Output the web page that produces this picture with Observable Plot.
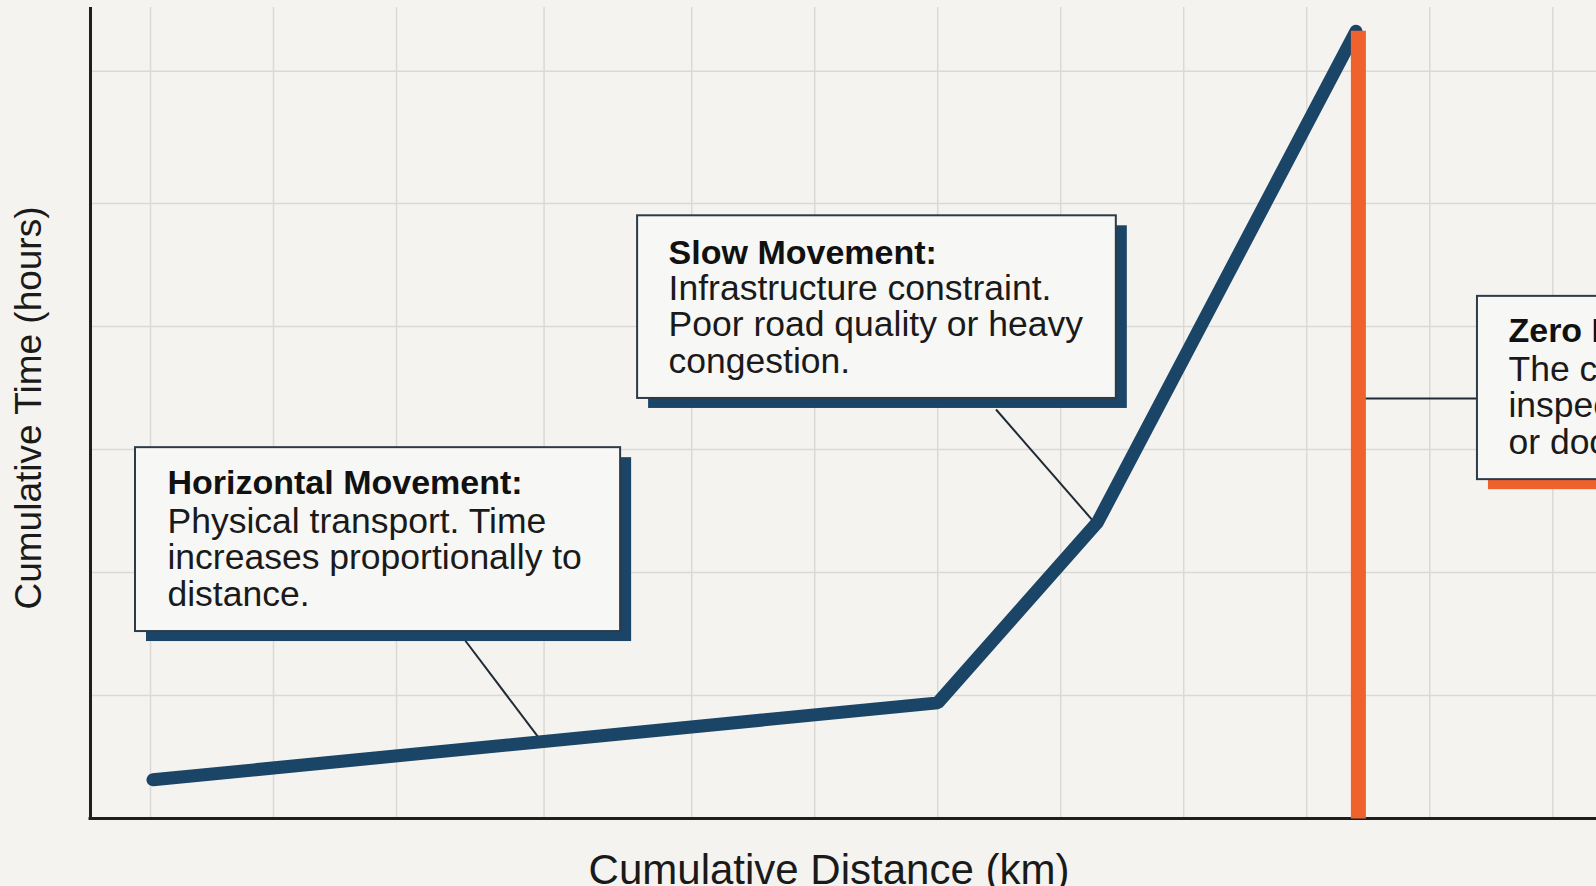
<!DOCTYPE html>
<html>
<head>
<meta charset="utf-8">
<script src="https://cdn.jsdelivr.net/npm/d3@7"></script>
<script src="https://cdn.jsdelivr.net/npm/@observablehq/plot@0.6"></script>
<style>
  html, body { margin: 0; padding: 0; background: #f4f3ef; overflow: hidden; }
</style>
</head>
<body>
<div id="chart"></div>
<script>
// ---- data ----
const xLabel = "Cumulative Distance (km)";
const yLabel = "Cumulative Time (hours)";

// grid positions (no tick labels are printed)
const gridDistance = [0, 50, 100, 160, 220, 270, 320, 370, 420, 470, 520, 570];
const gridTime = [2, 4, 6, 8, 10, 12.15];

// journey profile
const distance = [1, 320, 385, 490];
const time = [0.63, 1.88, 4.82, 12.8];

// stationary (zero-distance) segment
const stopDistance = [491, 491];
const stopTime = [0, 12.81];

// annotation boxes (data units)
const boxTitles = ["Horizontal Movement:", "Slow Movement:", "Zero Movement:"];
const boxBodies = [
  "Physical transport. Time\nincreases proportionally to\ndistance.",
  "Infrastructure constraint.\nPoor road quality or heavy\ncongestion.",
  "The cargo waits for customs\ninspection, border clearance\nor documentation."
];
const boxX1 = [-6.1, 198, 539.4];
const boxX2 = [191.1, 392.6, 720];
const boxY1 = [3.04, 6.83, 5.51];
const boxY2 = [6.03, 9.80, 8.49];
const textX = [6.9, 210.6, 552];
const titleY = [5.27, 9.01, 7.74];
const bodyY = [3.46, 7.25, 5.93];
const linkX1 = [128, 343.7, 491];
const linkY1 = [2.89, 6.65, 6.83];
const linkX2 = [159, 384, 539.4];
const linkY2 = [1.25, 4.8, 6.83];
const shadowColor = ["#1b4567", "#1b4567", "#f0622d"];

// ---- tables built from the arrays ----
const profile = distance.map((d, i) => ({distance: d, time: time[i]}));
const stop = stopDistance.map((d, i) => ({distance: d, time: stopTime[i]}));
const boxes = boxTitles.map((t, i) => ({
  title: t, body: boxBodies[i],
  x1: boxX1[i], x2: boxX2[i], y1: boxY1[i], y2: boxY2[i],
  tx: textX[i], ty: titleY[i], by: bodyY[i],
  lx1: linkX1[i], ly1: linkY1[i], lx2: linkX2[i], ly2: linkY2[i],
  shadow: shadowColor[i]
}));

const xMin = -24.39, xMax = 576.0, yMax = 13.187;
const font = "'Liberation Sans', Arial, Helvetica, sans-serif";
const navy = "#1b4567";
const orange = "#f0622d";

const chart = Plot.plot({
  width: 1596,
  height: 886,
  marginLeft: 90,
  marginRight: 29,
  marginTop: 7,
  marginBottom: 68,
  x: {domain: [xMin, xMax], axis: null},
  y: {domain: [0, yMax], axis: null},
  style: {background: "#f4f3ef", fontFamily: font, overflow: "hidden"},
  marks: [
    // grid
    Plot.ruleX(gridDistance, {stroke: "#dad9d5", strokeWidth: 1.5}),
    Plot.ruleY(gridTime, {x1: xMin, x2: 700, stroke: "#dad9d5", strokeWidth: 1.5}),
    // axis lines
    Plot.ruleX([xMin], {stroke: "#1e1e1e", strokeWidth: 3}),
    Plot.ruleY([0], {x1: xMin - 0.6, x2: 700, stroke: "#1e1e1e", strokeWidth: 3}),
    // connectors
    Plot.link(boxes, {x1: "lx1", y1: "ly1", x2: "lx2", y2: "ly2", stroke: "#1f2a36", strokeWidth: 2}),
    // journey line
    Plot.line(profile, {x: "distance", y: "time", stroke: navy, strokeWidth: 13,
      strokeLinejoin: "miter", strokeLinecap: "round"}),
    // stationary segment
    Plot.line(stop, {x: "distance", y: "time", stroke: orange, strokeWidth: 15, strokeLinecap: "butt"}),
    // box shadows
    Plot.rect(boxes, {x1: "x1", x2: "x2", y1: "y1", y2: "y2", fill: "shadow", dx: 11, dy: 10}),
    // boxes
    Plot.rect(boxes, {x1: "x1", x2: "x2", y1: "y1", y2: "y2", fill: "#f7f7f5", stroke: "#2d3b48", strokeWidth: 2}),
    // box text
    Plot.text(boxes, {x: "tx", y: "ty", text: "title", textAnchor: "start", lineAnchor: "bottom",
      fontWeight: "bold", fontSize: 34, fill: "#111111"}),
    Plot.text(boxes, {x: "tx", y: "by", text: "body", textAnchor: "start", lineAnchor: "bottom",
      lineHeight: 1.03, fontSize: 35.5, fill: "#1a1a1a"}),
    // axis titles
    Plot.text([xLabel], {frameAnchor: "bottom", dy: 65, lineAnchor: "bottom", fontSize: 42, fill: "#1a1a1a"}),
    Plot.text([yLabel], {frameAnchor: "left", textAnchor: "middle", rotate: -90, dx: -50, dy: -5,
      lineAnchor: "bottom", fontSize: 37, fill: "#1a1a1a"})
  ]
});
document.getElementById("chart").appendChild(chart);
</script>
</body>
</html>
